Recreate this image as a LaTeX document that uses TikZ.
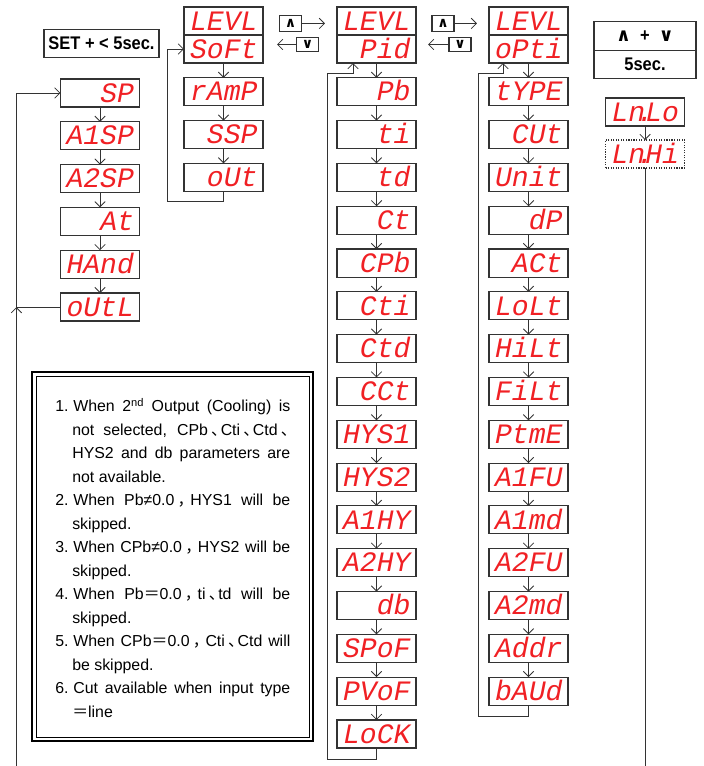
\documentclass[tikz,border=0pt]{standalone}
\usepackage{fontspec}
\setmainfont{Liberation Sans}
\newfontfamily\segfont{Liberation Mono}
\newfontfamily\keyfont[FakeStretch=0.9]{Liberation Sans}
\newfontfamily\cjk{Noto Sans CJK SC}
\newfontfamily\symfont{DejaVu Sans}
\usetikzlibrary{arrows.meta,positioning}
\definecolor{segred}{RGB}{240,32,36}
\newcommand{\noteitem}{\par\noindent\hangindent=0.425cm\hangafter=1 }
\newcommand{\dunhao}{\hspace{0.2em}\makebox[0.6em][l]{\cjk 、}}
\newcommand{\fwcomma}{\hspace{0.2em}\makebox[0.8em][l]{\cjk ，}}
\tikzset{
    segbox/.style={draw=black!80, line width=0.8pt, outer sep=0pt, inner sep=0pt,
        minimum width=1.975cm, minimum height=0.7cm, text width=1.7cm, align=right,
        text height=13pt, text depth=0pt, text=segred,
        font=\segfont\itshape\fontsize{20}{20}\selectfont},
    keybox/.style={draw=black!80, line width=0.8pt, outer sep=0pt, inner sep=0pt,
        minimum width=0.55cm, minimum height=0.42cm,
        font=\symfont\bfseries\fontsize{10}{10}\selectfont},
    labelbox/.style={draw=black!80, line width=0.8pt, outer sep=0pt, inner sep=0pt,
        minimum height=0.71cm, font=\keyfont\bfseries\fontsize{13}{13}\selectfont},
    segarrow/.style={-{Straight Barb[length=1.3mm, width=2.6mm]}, line width=0.6pt, black!80},
    notetext/.style={inner sep=0pt, text width=5.875cm, align=justify,
        font=\fontsize{11.3}{16.7}\selectfont}
}

\begin{document}
\begin{tikzpicture}[x=0.025cm, y=-0.025cm, node distance=0.37cm]
\useasboundingbox (0,0) rectangle (703,766);
\clip (0,0) rectangle (703,766);
% keys
\node[labelbox, minimum width=2.875cm] (setkey) at (101.5,43.5) {SET + < 5sec.};
\node[labelbox, minimum width=2.55cm] (keys) at (645,36) {{\symfont ∧} \ + \ {\symfont ∨}};
\node[labelbox, minimum width=2.55cm, below=0pt of keys] (secs) {5sec.};
\node[keybox] (up1) at (290.5,23.5) {∧};
\node[keybox, minimum height=0.34cm] (dn1) at (307.5,44.5) {∨};
\node[keybox] (up2) at (443,23.5) {∧};
\node[keybox, minimum height=0.34cm] (dn2) at (460,44.5) {∨};
% first column
\node[segbox] (sp) at (100,93) {SP};
\node[segbox, below=of sp] (a1sp) {A1SP};
\node[segbox, below=of a1sp] (a2sp) {A2SP};
\node[segbox, below=of a2sp] (atune) {At};
\node[segbox, below=of atune] (hand) {HAnd};
\node[segbox, below=of hand] (outl) {oUtL};
% soft level
\node[segbox] (levl1) at (223.5,21) {LEVL};
\node[segbox, below=0pt of levl1] (soft) {SoFt};
\node[segbox, below=of soft] (ramp) {rAmP};
\node[segbox, below=of ramp] (ssp) {SSP};
\node[segbox, below=of ssp] (sout) {oUt};
% pid level
\node[segbox] (levl2) at (376.5,21) {LEVL};
\node[segbox, below=0pt of levl2] (pid) {Pid};
\node[segbox, below=of pid] (pb) {Pb};
\node[segbox, below=of pb] (ti) {ti};
\node[segbox, below=of ti] (td) {td};
\node[segbox, below=of td] (ct) {Ct};
\node[segbox, below=of ct] (cpb) {CPb};
\node[segbox, below=of cpb] (cti) {Cti};
\node[segbox, below=of cti] (ctd) {Ctd};
\node[segbox, below=of ctd] (cct) {CCt};
\node[segbox, below=of cct] (hys1) {HYS1};
\node[segbox, below=of hys1] (hys2) {HYS2};
\node[segbox, below=of hys2] (a1hy) {A1HY};
\node[segbox, below=of a1hy] (a2hy) {A2HY};
\node[segbox, below=of a2hy] (db) {db};
\node[segbox, below=of db] (spof) {SPoF};
\node[segbox, below=of spof] (pvof) {PVoF};
\node[segbox, below=of pvof] (lock) {LoCK};
% option level
\node[segbox] (levl3) at (528.5,21) {LEVL};
\node[segbox, below=0pt of levl3] (opti) {oPti};
\node[segbox, below=of opti] (type) {tYPE};
\node[segbox, below=of type] (cut) {CUt};
\node[segbox, below=of cut] (unit) {Unit};
\node[segbox, below=of unit] (dp) {dP};
\node[segbox, below=of dp] (act) {ACt};
\node[segbox, below=of act] (lolt) {LoLt};
\node[segbox, below=of lolt] (hilt) {HiLt};
\node[segbox, below=of hilt] (filt) {FiLt};
\node[segbox, below=of filt] (ptme) {PtmE};
\node[segbox, below=of ptme] (a1fu) {A1FU};
\node[segbox, below=of a1fu] (a1md) {A1md};
\node[segbox, below=of a1md] (a2fu) {A2FU};
\node[segbox, below=of a2fu] (a2md) {A2md};
\node[segbox, below=of a2md] (addr) {Addr};
\node[segbox, below=of addr] (baud) {bAUd};
% line input
\node[segbox] (lnlo) at (645,112) {Ln\makebox[0pt]{.}Lo};
\node[segbox, densely dotted, below=0.35cm of lnlo] (lnhi) {Ln\makebox[0pt]{.}Hi};
% notes
\draw[line width=1.1pt] (32,372) rectangle (313,741);
\draw[line width=0.5pt] (36,376) rectangle (309,737);
\node[notetext, anchor=north west] (note) at (55,388) {%
\noteitem 1.\hspace{0.3em}When 2\textsuperscript{nd} Output (Cooling) is\linebreak
    not selected, CPb\dunhao Cti\dunhao Ctd\dunhao\linebreak
    HYS2 and db parameters are\linebreak not available.
\noteitem 2.\hspace{0.3em}When Pb≠0.0\fwcomma HYS1 will be\linebreak skipped.
\noteitem 3.\hspace{0.3em}When CPb≠0.0\fwcomma HYS2 will be\linebreak skipped.
\noteitem 4.\hspace{0.3em}When Pb{\cjk ＝}0.0\fwcomma ti\dunhao td will be\linebreak skipped.
\noteitem 5.\hspace{0.3em}When CPb{\cjk ＝}0.0\fwcomma Cti\dunhao Ctd will\linebreak be skipped.
\noteitem 6.\hspace{0.3em}Cut available when input type\linebreak {\cjk ＝}line\par};
% key arrows
\draw[segarrow, shorten >=0.3cm] (up1.east) -- (up1.east -| levl2.west);
\draw[segarrow, shorten >=0.35cm] (dn1.west) -- (dn1.west -| levl1.east);
\draw[segarrow, shorten >=0.3cm] (up2.east) -- (up2.east -| levl3.west);
\draw[segarrow, shorten >=0.3cm] (dn2.west) -- (dn2.west -| levl2.east);
% first column
\draw[segarrow] (sp) -- (a1sp);
\draw[segarrow] (a1sp) -- (a2sp);
\draw[segarrow] (a2sp) -- (atune);
\draw[segarrow] (atune) -- (hand);
\draw[segarrow] (hand) -- (outl);
% soft level
\draw[segarrow] (soft) -- (ramp);
\draw[segarrow] (ramp) -- (ssp);
\draw[segarrow] (ssp) -- (sout);
\draw[segarrow] (sout.south) -- ++(0,10) -| ([xshift=-0.425cm]soft.west) -- (soft.west);
% pid level
\draw[segarrow] (pid) -- (pb);
\draw[segarrow] (pb) -- (ti);
\draw[segarrow] (ti) -- (td);
\draw[segarrow] (td) -- (ct);
\draw[segarrow] (ct) -- (cpb);
\draw[segarrow] (cpb) -- (cti);
\draw[segarrow] (cti) -- (ctd);
\draw[segarrow] (ctd) -- (cct);
\draw[segarrow] (cct) -- (hys1);
\draw[segarrow] (hys1) -- (hys2);
\draw[segarrow] (hys2) -- (a1hy);
\draw[segarrow] (a1hy) -- (a2hy);
\draw[segarrow] (a2hy) -- (db);
\draw[segarrow] (db) -- (spof);
\draw[segarrow] (spof) -- (pvof);
\draw[segarrow] (pvof) -- (lock);
\draw[segarrow] (lock.south) -- ++(0,11) -| ([shift={(-0.25cm,-0.25cm)}]pid.south west) -| ([xshift=0.4cm]pid.south west);
% option level
\draw[segarrow] (opti) -- (type);
\draw[segarrow] (type) -- (cut);
\draw[segarrow] (cut) -- (unit);
\draw[segarrow] (unit) -- (dp);
\draw[segarrow] (dp) -- (act);
\draw[segarrow] (act) -- (lolt);
\draw[segarrow] (lolt) -- (hilt);
\draw[segarrow] (hilt) -- (filt);
\draw[segarrow] (filt) -- (ptme);
\draw[segarrow] (ptme) -- (a1fu);
\draw[segarrow] (a1fu) -- (a1md);
\draw[segarrow] (a1md) -- (a2fu);
\draw[segarrow] (a2fu) -- (a2md);
\draw[segarrow] (a2md) -- (addr);
\draw[segarrow] (addr) -- (baud);
\draw[segarrow] (baud.south) -- ++(0,11) -| ([shift={(-0.275cm,-0.25cm)}]opti.south west) -| ([xshift=0.35cm]opti.south west);
% back to SP
\draw[segarrow] (lnlo) -- (lnhi);
\coordinate (join) at ([xshift=-1.1cm]outl.west);
\draw[segarrow] (lnhi.south) -- ++(0,650) -| (join);
\draw[black!80, line width=0.6pt] (outl.west) -- (join);
\draw[segarrow] (join) |- (sp.west);
\end{tikzpicture}
\end{document}
